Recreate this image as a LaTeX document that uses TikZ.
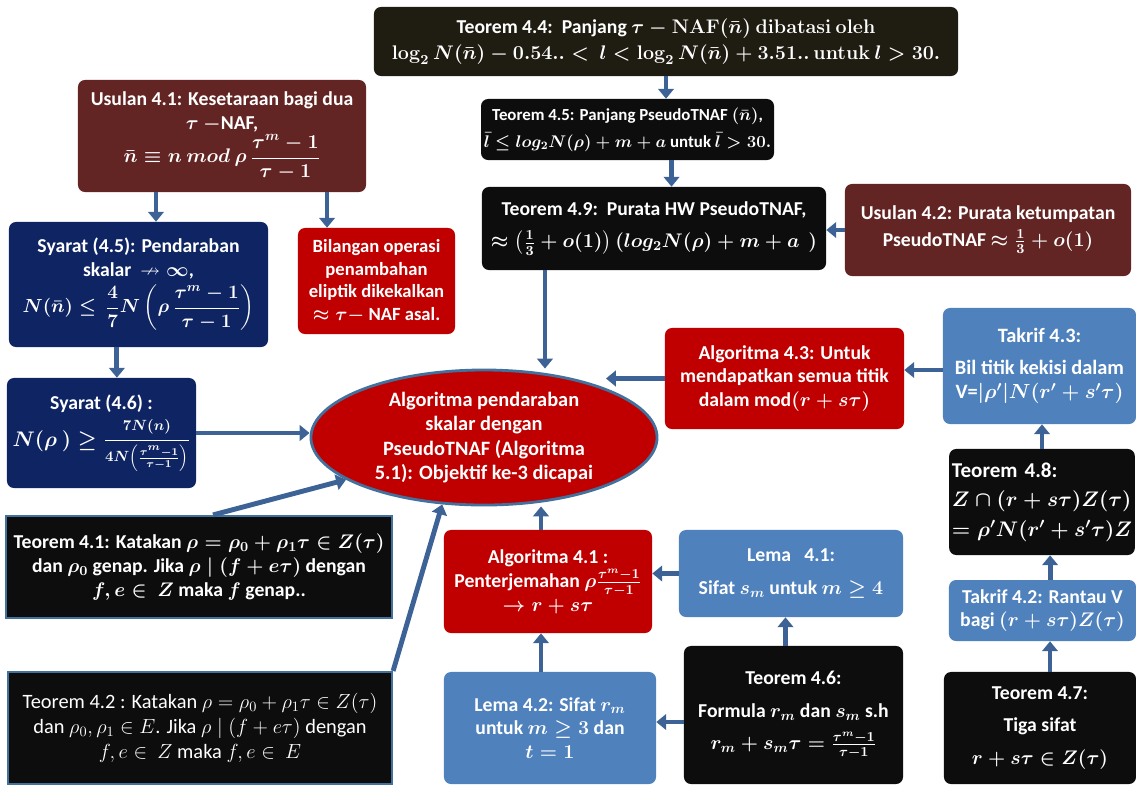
\documentclass[tikz,border=0pt]{standalone}
\usepackage{fix-cm}
\usepackage{amsmath,amssymb}
\usepackage[no-math]{fontspec}
\setmainfont{Carlito}
\usetikzlibrary{arrows.meta,shapes.geometric,calc}
\definecolor{nearblack}{HTML}{0D0D0D}
\definecolor{olive}{HTML}{1F1C12}
\definecolor{maroon}{HTML}{632523}
\definecolor{navy}{HTML}{0F2463}
\definecolor{crimson}{HTML}{C00000}
\definecolor{steel}{HTML}{4F81BD}
\definecolor{arrowblue}{HTML}{3D6396}
\definecolor{rim}{HTML}{41719C}

\begin{document}
\begin{tikzpicture}[x=.025cm,y=-.025cm,
  box/.style={rounded corners=5pt,text=white,align=center,inner sep=2pt,font=\fontsize{14}{17}\selectfont\bfseries\boldmath},
  framed/.style={box,rounded corners=0pt,fill=nearblack,draw=rim,line width=1.5pt},
  arr/.style={arrowblue,line width=3.5pt,-{Triangle[width=11pt,length=7pt]}}]
\useasboundingbox (0,0) rectangle (1136,784);
% top row
\node[box,fill=olive,minimum width=14.6cm,minimum height=1.725cm] (t44) at (666,41.5){Teorem 4.4:\ \ Panjang $\tau-\mathrm{NAF}(\bar{n})\ \mathrm{dibatasi\ oleh}$\\[2pt] $\log_2 N(\bar{n})-0.54..<\ l<\log_2 N(\bar{n})+3.51..\,\mathrm{untuk}\ l>30.$};
\node[box,fill=maroon,minimum width=7.2cm,minimum height=2.8cm] (u41) at (222,136){Usulan 4.1: Kesetaraan bagi dua\\ $\tau\ -$NAF,\\[1pt] $\bar{n}\equiv n\ mod\ \rho\,\dfrac{\tau^m-1}{\tau-1}$};
\node[box,fill=nearblack,font=\fontsize{12}{15}\selectfont\bfseries\boldmath,minimum width=7.275cm,minimum height=1.525cm] (t45) at (627.5,129.5){Teorem 4.5: Panjang PseudoTNAF $(\bar{n})$,\\[4pt] $\bar{l}\leq log_2 N(\rho)+m+a$ untuk $\bar{l}>30.$};
\node[box,fill=nearblack,minimum width=8.6cm,minimum height=2.075cm] (t49) at (654,228.5){Teorem 4.9:\ \ Purata HW PseudoTNAF,\\[6pt] $\approx\left(\frac{1}{3}+o(1)\right)(log_2 N(\rho)+m+a\ \ )$};
\node[box,fill=maroon,minimum width=7.15cm,minimum height=2.3cm] (u42) at (988,230){Usulan 4.2: Purata ketumpatan\\[2pt] PseudoTNAF $\approx\frac{1}{3}+o(1)$};
% left column
\node[box,fill=navy,minimum width=6.475cm,minimum height=3.125cm] (s45) at (138.5,284.5){Syarat (4.5): Pendaraban\\ skalar\ \ $\nrightarrow\infty$,\\[3pt] {\fontsize{13.5}{16}\selectfont$N(\bar{n})\leq\,\dfrac{4}{7}N\left(\rho\,\dfrac{\tau^m-1}{\tau-1}\right)$}};
\node[box,fill=crimson,font=\fontsize{13.25}{16}\selectfont\bfseries\boldmath,minimum width=3.925cm,minimum height=2.65cm] (bil) at (376.5,281){Bilangan operasi\\ penambahan\\ eliptik dikekalkan\\ $\approx\tau-$ NAF asal.};
\node[box,fill=navy,minimum width=4.725cm,minimum height=2.75cm] (s46) at (101.5,433){Syarat (4.6) :\\[4pt] {\fontsize{15}{18}\selectfont$N(\rho\ )\geq\dfrac{\scriptstyle 7N(n)}{\scriptstyle 4N\left(\frac{\tau^m-1}{\tau-1}\right)}$}};
\node[box,ellipse,fill=crimson,draw=rim,line width=2pt,inner sep=0pt,font=\fontsize{14.5}{17.5}\selectfont\bfseries,minimum width=8.65cm,minimum height=3.375cm] (alg) at (484,437.5){Algoritma pendaraban\\ skalar dengan\\ PseudoTNAF (Algoritma\\ 5.1): Objektif ke-3 dicapai};
\node[framed,minimum width=9.65cm,minimum height=2.55cm] (t41) at (199,567){Teorem 4.1: Katakan $\rho=\rho_0+\rho_1\tau\in Z(\tau)$\\ dan $\rho_0$ genap. Jika $\rho\mid(f+e\tau)$ dengan\\ $f,e\in\ Z$ maka $f$ genap..};
\node[framed,font=\fontsize{14.5}{18}\selectfont,minimum width=9.6cm,minimum height=2.8cm] (t42) at (200,728){Teorem 4.2 : Katakan $\rho=\rho_0+\rho_1\tau\in Z(\tau)$\\ dan $\rho_0,\rho_1\in E$. Jika $\rho\mid(f+e\tau)$ dengan\\ $f,e\in\ Z$ maka $f,e\in\ E$};
% right part
\node[box,fill=crimson,minimum width=5.975cm,minimum height=2.525cm] (a43) at (784.5,378.5){Algoritma 4.3: Untuk\\ mendapatkan semua titik\\ dalam mod$(r+s\tau)$};
\node[box,fill=steel,font=\fontsize{14.5}{17.5}\selectfont\bfseries\boldmath,minimum width=4.825cm,minimum height=2.9cm] (k43) at (1039.5,366){Takrif 4.3:\\[5pt] Bil titik kekisi dalam\\ V=$|\rho'|N(r'+s'\tau)$};
\node[box,fill=nearblack,font=\fontsize{15}{18}\selectfont\bfseries\boldmath,align=left,text width=4.5cm,minimum height=2.65cm] (t48) at (1042,502){Teorem 4.8:\\[3pt] $Z\cap(r+s\tau)Z(\tau)$\\[3pt] $=\rho'N(r'+s'\tau)Z$};
\node[box,fill=crimson,minimum width=5.2cm,minimum height=2.575cm] (a41) at (548,581.5){Algoritma 4.1 :\\ Penterjemahan $\rho\frac{\tau^m-1}{\tau-1}$\\ $\to r+s\tau$};
\node[box,fill=steel,minimum width=5.6cm,minimum height=2.175cm] (l41) at (791,573.5){Lema\ \ \ 4.1:\\[6pt] Sifat $s_m$ untuk $m\geq4$};
\node[box,fill=steel,minimum width=5.3cm,minimum height=2.8cm] (l42) at (550,728){Lema 4.2: Sifat $r_m$\\ untuk $m\geq3$ dan\\ $t=1$};
\node[box,fill=nearblack,minimum width=5.475cm,minimum height=3.45cm] (t46) at (793.5,715){Teorem 4.6:\\[6pt] Formula $r_m$ dan $s_m$ s.h\\[6pt] $r_m+s_m\tau=\frac{\tau^m-1}{\tau-1}$};
\node[box,fill=steel,minimum width=4.675cm,minimum height=1.525cm] (k42) at (1042.5,610.5){Takrif 4.2: Rantau V\\ bagi $(r+s\tau)Z(\tau)$};
\node[box,fill=nearblack,minimum width=4.8cm,minimum height=2.8cm] (t47) at (1040,728){Teorem 4.7:\\[6pt] Tiga sifat\\[6pt] $r+s\tau\in Z(\tau)$};
% connectors
\draw[arr] (t44.south) -- (t44.south |- t45.north);
\draw[arr] ([xshift=1.1cm]t45.south) -- ([xshift=1.1cm]t45.south |- t49.north);
\draw[arr] (u42.west) -- (u42.west -| t49.east);
\draw[arr] ([xshift=-2.725cm]t49.south) -- ([xshift=-2.725cm]t49.south |- alg.north);
\draw[arr] ([xshift=-1.65cm]u41.south) -- ([xshift=-1.65cm]u41.south |- s45.north);
\draw[arr] ([xshift=2.625cm]u41.south) -- ([xshift=2.625cm]u41.south |- bil.north);
\draw[arr] ([xshift=-.54cm]s45.south) -- ([xshift=-.54cm]s45.south |- s46.north);
\draw[arr] (s46.east) -- (s46.east -| alg.west);
\draw[arr] (a43.west) -- (alg.22 |- a43.west);
\draw[arr] ([xshift=.35cm]t41.north) -- (alg.197);
\draw[arr] (t42.north east) -- (alg.238);
\draw[arr] ([xshift=-.175cm]a41.north) -- ([xshift=-.175cm]a41.north |- alg.south);
\draw[arr] (l41.west) -- (l41.west -| a41.east);
\draw[arr] ([xshift=-.2cm]t46.north) -- ([xshift=-.2cm]t46.north |- l41.south);
\draw[arr] ([xshift=-.225cm]l42.north) -- ([xshift=-.225cm]l42.north |- a41.south);
\draw[arr] ([yshift=-.175cm]t46.west) -- ([yshift=-.175cm]t46.west -| l42.east);
\draw[arr] ([yshift=-.1cm]k43.west) -- ([yshift=-.1cm]k43.west -| a43.east);
\draw[arr] (t48.north) -- (t48.north |- k43.south);
\draw[arr] ([xshift=.19cm]k42.north) -- ([xshift=.19cm]k42.north |- t48.south);
\draw[arr] ([xshift=.25cm]t47.north) -- ([xshift=.25cm]t47.north |- k42.south);
\end{tikzpicture}
\end{document}
